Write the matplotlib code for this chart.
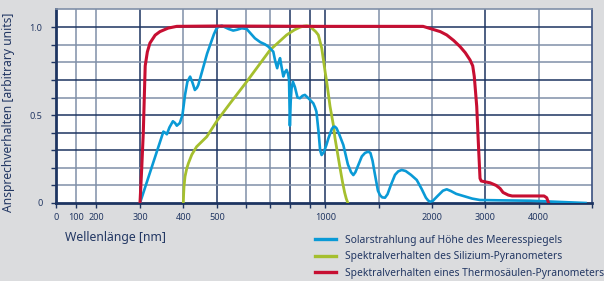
import numpy as np
import matplotlib.pyplot as plt
from matplotlib.lines import Line2D

plt.rcParams['font.family'] = ['Noto Sans', 'DejaVu Sans']

# axis is stretched piecewise: wavelength -> relative position
scale_nm = [0, 100, 200, 300, 400, 500, 600, 700, 800, 900, 1000, 1500, 2000, 3000, 4000, 5000]
scale_pos = [55.7, 76, 96.3, 140, 183.3, 217.3, 245.7, 270, 290.5, 310.5, 325.3, 379, 432.3, 485.5, 538.7, 592]

xtick_vals = [0, 100, 200, 300, 400, 500, 1000, 2000, 3000, 4000]
xtick_labels = ['0', '100', '200', '300', '400', '500', '1000', '2000', '3000', '4000']

# solar spectrum at sea level
solar_nm = [300, 354, 358, 362, 368, 376, 381, 385, 392, 398, 405, 412, 420, 427, 434, 440, 444,
            470, 490, 498, 507, 516, 527, 540, 556, 570, 586, 604, 620, 638, 660, 679, 693, 716,
            725, 735, 742, 749, 757, 765, 773, 781, 788, 793, 797, 801, 805, 812, 822, 835, 847,
            860, 872, 895, 919, 930, 940, 955, 965, 975, 990, 1010, 1030, 1060, 1075, 1090, 1105,
            1130, 1168, 1210, 1240, 1261, 1280, 1310, 1340, 1370, 1400, 1420, 1440, 1460, 1490,
            1509, 1530, 1556, 1580, 1610, 1650, 1680, 1713, 1750, 1800, 1854, 1900, 1940, 1960,
            1978, 2010, 2100, 2200, 2271, 2350, 2450, 2583, 2750, 2897, 3300, 3837, 4878]
solar_val = [0.0, 0.406, 0.40, 0.391, 0.43, 0.465, 0.455, 0.44, 0.455, 0.50, 0.614, 0.69, 0.719,
             0.685, 0.643, 0.655, 0.671, 0.85, 0.96, 0.994, 1.005, 1.009, 1.0, 0.99, 0.981, 0.986,
             0.994, 0.99, 0.965, 0.937, 0.915, 0.903, 0.89, 0.861, 0.81, 0.767, 0.80, 0.824, 0.77,
             0.72, 0.745, 0.757, 0.735, 0.70, 0.44, 0.58, 0.65, 0.69, 0.66, 0.60, 0.596, 0.61,
             0.615, 0.59, 0.567, 0.545, 0.52, 0.40, 0.30, 0.273, 0.29, 0.33, 0.37, 0.42, 0.433,
             0.434, 0.425, 0.39, 0.33, 0.22, 0.175, 0.159, 0.175, 0.22, 0.265, 0.285, 0.292,
             0.285, 0.24, 0.17, 0.07, 0.045, 0.032, 0.03, 0.05, 0.10, 0.16, 0.18, 0.188, 0.182,
             0.16, 0.131, 0.08, 0.03, 0.015, 0.007, 0.012, 0.04, 0.07, 0.078, 0.068, 0.052,
             0.04, 0.025, 0.017, 0.015, 0.013, 0.0]

# silicon pyranometer
si_nm = [400, 401, 402, 405, 410, 415, 425, 439, 469, 500, 545, 604, 700, 781, 820, 847, 865, 881,
         897, 915, 935, 953, 976, 1000, 1013, 1044, 1075, 1090, 1137, 1160, 1180, 1195, 1210]
si_val = [0.0, 0.05, 0.09, 0.15, 0.195, 0.226, 0.275, 0.32, 0.377, 0.47, 0.567, 0.69, 0.87, 0.956,
          0.985, 1.0, 1.006, 1.008, 1.005, 0.99, 0.975, 0.956, 0.88, 0.74, 0.69, 0.55, 0.444,
          0.37, 0.2, 0.12, 0.06, 0.025, 0.0]

# thermopile pyranometer
tp_nm = [300, 304, 307.6, 312, 317, 323, 335, 346, 365, 385, 500, 1000, 1913, 1994, 2150, 2271,
         2400, 2521, 2620, 2709, 2760, 2789, 2835, 2872, 2897, 2920, 3000, 3085, 3200, 3273,
         3330, 3429, 3500, 4100, 4150, 4180]
tp_val = [0.0, 0.2, 0.40, 0.78, 0.86, 0.91, 0.955, 0.975, 0.995, 1.005, 1.007, 1.005, 1.005, 0.99,
          0.975, 0.956, 0.925, 0.89, 0.855, 0.814, 0.78, 0.72, 0.55, 0.30, 0.14, 0.125, 0.12,
          0.115, 0.10, 0.083, 0.06, 0.045, 0.04, 0.04, 0.03, 0.005]

labels = ['Solarstrahlung auf Höhe des Meeresspiegels',
          'Spektralverhalten des Silizium-Pyranometers',
          'Spektralverhalten eines Thermosäulen-Pyranometers']
c_blue = '#0a9ad6'
c_green = '#a5bf2e'
c_red = '#c70f32'
navy = '#1d3461'
greyblue = '#8090a8'
text_col = '#223763'

def fwd(x):
    return np.interp(x, scale_nm, scale_pos)

def inv(p):
    return np.interp(p, scale_pos, scale_nm)

fig = plt.figure(figsize=(6.04, 2.81), dpi=100, facecolor='#dbdcde')
ax = fig.add_axes([55.7 / 604, 78 / 281, (592 - 55.7) / 604, (203 - 9.3) / 281])
ax.set_facecolor('white')
ax.set_xscale('function', functions=(fwd, inv))
ax.set_xlim(0, 5000)
ax.set_ylim(0, 1.102)

vgrid = [100, 200, 300, 400, 500, 600, 700, 800, 900, 1000, 1500, 2000, 3000, 4000]
vcol = ['g', 'g', 'd', 'g', 'd', 'g', 'g', 'd', 'd', 'd', 'g', 'g', 'd', 'g']
for v, c in zip(vgrid, vcol):
    ax.axvline(v, color=navy if c == 'd' else greyblue, lw=1.1, zorder=1)
hgrid = [0.1, 0.2, 0.3, 0.4, 0.5, 0.6, 0.7, 0.8, 0.9, 1.0]
hcol = ['g', 'g', 'd', 'd', 'd', 'g', 'd', 'g', 'g', 'd']
for h, c in zip(hgrid, hcol):
    ax.axhline(h, color=navy if c == 'd' else greyblue, lw=1.1, zorder=1)

ax.plot(si_nm, si_val, color=c_green, lw=2.0, zorder=3, solid_joinstyle='round')
ax.plot(solar_nm, solar_val, color=c_blue, lw=1.9, zorder=4, solid_joinstyle='round')
ax.plot(tp_nm, tp_val, color=c_red, lw=2.2, zorder=5, solid_joinstyle='round')

ax.set_xticks(xtick_vals)
ax.set_xticklabels(xtick_labels)
ax.set_xticks([600, 700, 800, 900, 1500, 5000], minor=True)
ax.set_yticks([0, 0.1, 0.2, 0.3, 0.4, 0.5, 0.6, 0.7, 0.8, 0.9, 1.0])
ax.set_yticklabels(['0', '', '', '', '', '0.5', '', '', '', '', '1.0'])
ax.tick_params(axis='both', which='both', colors=navy, labelcolor=text_col, labelsize=6.5,
               length=3.5, width=1.0)
ax.tick_params(axis='x', pad=4)
ax.tick_params(axis='y', pad=6)

for side in ['left', 'bottom']:
    ax.spines[side].set_color(navy)
    ax.spines[side].set_linewidth(2.0)
ax.spines['top'].set_color(greyblue)
ax.spines['top'].set_linewidth(1.2)
ax.spines['right'].set_color('#3a5080')
ax.spines['right'].set_linewidth(1.2)

ax.set_ylabel('Ansprechverhalten [arbitrary units]', fontsize=8.7, color=text_col, labelpad=10)
ax.yaxis.set_label_coords(-0.075, 0.47)
fig.text(65 / 604, 1 - 238 / 281, 'Wellenlänge [nm]', fontsize=8.8, color=text_col,
         ha='left', va='center')

handles = [Line2D([], [], color=c, lw=2.4) for c in (c_blue, c_green, c_red)]
fig.legend(handles, labels, loc='upper left', bbox_to_anchor=(315 / 604, 1 - 234.5 / 281),
           frameon=False, fontsize=7.4, labelcolor=text_col, handlelength=2.0,
           handletextpad=0.95, labelspacing=0.55, borderaxespad=0, borderpad=0)

fig.savefig('out.png', dpi=100, facecolor=fig.get_facecolor())
